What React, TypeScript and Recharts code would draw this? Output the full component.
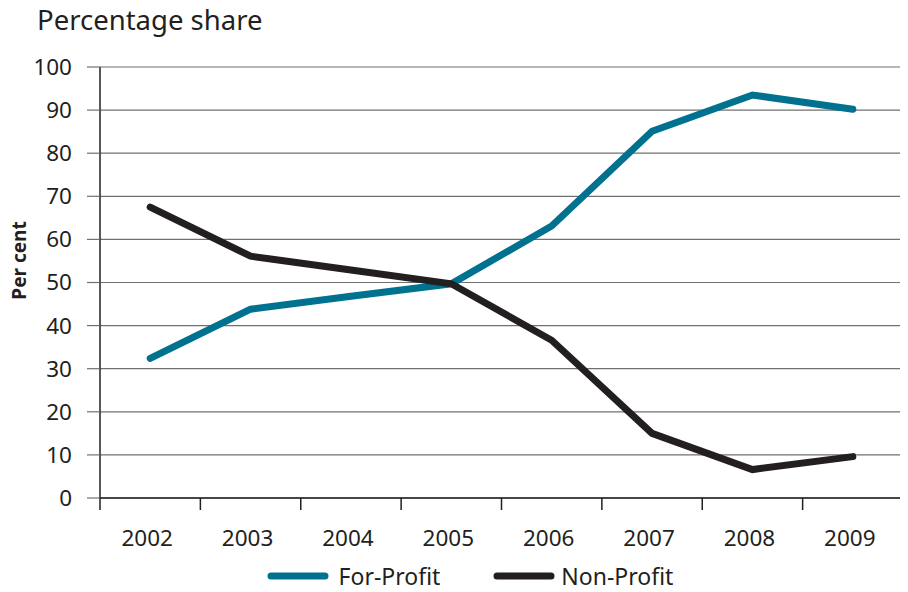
import React from 'react';
import { LineChart, Line, XAxis, YAxis, CartesianGrid, Legend, Label } from 'recharts';

const years = [2002, 2003, 2004, 2005, 2006, 2007, 2008, 2009];
const forProfit = [32.4, 43.8, 46.8, 49.7, 63.1, 85.1, 93.5, 90.2];
const nonProfit = [67.5, 56.1, 52.9, 49.7, 36.6, 15.0, 6.6, 9.6];
const yTicks = [0, 10, 20, 30, 40, 50, 60, 70, 80, 90, 100];
const title = 'Percentage share';
const yLabel = 'Per cent';
const seriesNames = ['For-Profit', 'Non-Profit'];

const TEAL = '#00728f';
const DARK = '#231f20';
const GRID = '#707070';
const FONT = '"Noto Sans", "Open Sans", sans-serif';

const data = years.map((y, i) => ({ year: y, fp: forProfit[i], np: nonProfit[i] }));
const boundaries = [years[0] - 0.5, ...years.map((y) => y + 0.5)];
const xTicks = [...boundaries, ...years].sort((a, b) => a - b);

const XTick = (props: any) => {
  const { x, y, payload } = props;
  const v = payload.value;
  if (Number.isInteger(v)) {
    return (
      <text x={x - 3} y={y + 48} textAnchor="middle" fill={DARK} fontSize={22.5} fontFamily={FONT}>
        {v}
      </text>
    );
  }
  return <line x1={x} x2={x} y1={y} y2={y + 12} stroke={DARK} strokeWidth={1.5} />;
};

const YLabel = (props: any) => {
  const vb = props.viewBox || { x: 0, y: 0, width: 0, height: 0 };
  const cx = vb.x + 18;
  const cy = vb.y + vb.height / 2 - 22;
  return (
    <text
      x={cx}
      y={cy}
      transform={`rotate(-90, ${cx}, ${cy})`}
      textAnchor="middle"
      fill={DARK}
      fontSize={19}
      fontWeight="bold"
      fontFamily={FONT}
    >
      {yLabel}
    </text>
  );
};

const LegendContent = (props: any) => {
  const payload = props.payload || [];
  return (
    <div
      style={{
        display: 'flex',
        justifyContent: 'center',
        alignItems: 'center',
        height: 28,
        paddingLeft: 29,
        fontFamily: FONT,
        fontSize: 23,
        lineHeight: '28px',
        color: DARK,
      }}
    >
      {payload.map((p: any, i: number) => (
        <div key={i} style={{ display: 'flex', alignItems: 'center', marginRight: i === 0 ? 53 : 0 }}>
          <svg width={62} height={10} style={{ marginRight: i === 0 ? 10 : 6 }}>
            <line x1={4} x2={58} y1={5} y2={5} stroke={p.color} strokeWidth={7} strokeLinecap="round" />
          </svg>
          <span>{p.value}</span>
        </div>
      ))}
    </div>
  );
};

export default function App() {
  return (
    <div style={{ position: 'relative', width: 900, height: 584 }}>
      <div
        style={{
          position: 'absolute',
          left: 29,
          top: -2.4,
          fontFamily: FONT,
          fontSize: 27.5,
          lineHeight: '27.5px',
          color: DARK,
          whiteSpace: 'nowrap',
          zIndex: 2,
        }}
      >
        {title}
      </div>
      <LineChart width={900} height={584} data={data} margin={{ top: 59, right: 5, bottom: 2, left: 0 }}>
        <CartesianGrid horizontal vertical={false} stroke={GRID} strokeWidth={1.2} />
        <XAxis
          dataKey="year"
          type="number"
          domain={[boundaries[0], boundaries[boundaries.length - 1]]}
          ticks={xTicks}
          interval={0}
          tickSize={0}
          tickMargin={0}
          tickLine={false}
          tick={<XTick />}
          axisLine={{ stroke: DARK, strokeWidth: 1.5 }}
          height={64}
        />
        <YAxis
          domain={[0, 100]}
          ticks={yTicks}
          interval={0}
          width={92}
          tickSize={13}
          tickMargin={15}
          tickLine={{ stroke: GRID, strokeWidth: 1.2 }}
          axisLine={{ stroke: DARK, strokeWidth: 1.5 }}
          tick={{ fill: DARK, fontSize: 22.5, fontFamily: FONT }}
        >
          <Label content={<YLabel />} />
        </YAxis>
        <Legend verticalAlign="bottom" content={<LegendContent />} />
        <Line
          type="linear"
          dataKey="fp"
          name={seriesNames[0]}
          stroke={TEAL}
          strokeWidth={7}
          strokeLinecap="round"
          dot={false}
          isAnimationActive={false}
        />
        <Line
          type="linear"
          dataKey="np"
          name={seriesNames[1]}
          stroke={DARK}
          strokeWidth={7}
          strokeLinecap="round"
          dot={false}
          isAnimationActive={false}
        />
      </LineChart>
    </div>
  );
}
